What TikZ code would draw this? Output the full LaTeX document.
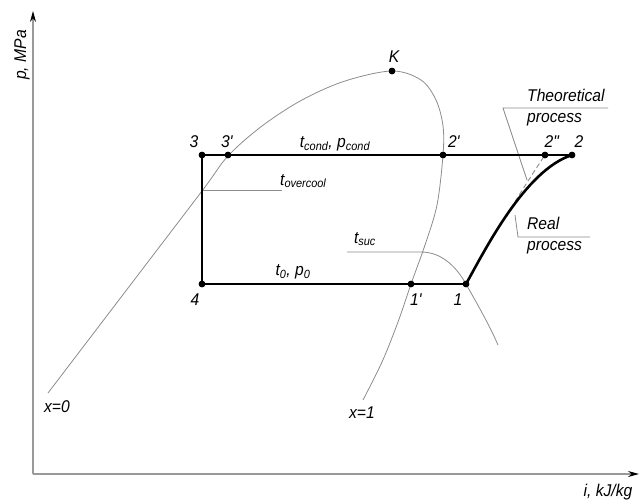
\documentclass[tikz,border=0pt]{standalone}
\usepackage{fontspec}
\setmainfont{Liberation Sans}[FakeStretch=0.92]
\usetikzlibrary{arrows.meta}
\newcommand{\prm}{\textquotesingle}
\newcommand{\dprm}{\textquotedbl}
\begin{document}
\begin{tikzpicture}[x=1pt,y=-1pt,
  lbl/.style={inner sep=0pt,font=\fontsize{17}{19}\selectfont\itshape},
  thinline/.style={draw=black!45,line width=0.8pt},
  axisline/.style={draw=black!40,line width=1.2pt},
  cycline/.style={draw=black,line width=2.4pt,line join=round},
  dotst/.style={circle,fill=black,inner sep=0pt,minimum size=6.5pt}]
\useasboundingbox (0,0) rectangle (640,501);
% points
\coordinate (origin) at (33,474);
\coordinate (ytop) at (33,11);
\coordinate (xend) at (639,474);
\node[dotst] (p3) at (202,155) {};
\node[dotst] (p3p) at (228,155) {};
\node[dotst] (p2p) at (443,155) {};
\node[dotst] (p2pp) at (545,155) {};
\node[dotst] (p2) at (572,155) {};
\node[dotst] (p4) at (202,284) {};
\node[dotst] (p1p) at (411,284) {};
\node[dotst] (p1) at (466,284) {};
\node[dotst] (K) at (392,71) {};
% axes
\draw[axisline,-{Stealth[black,length=11pt,width=6pt]}] (origin) -- (ytop);
\draw[axisline,-{Stealth[black,length=11pt,width=6pt]}] (origin) -- (xend);
% saturation dome
\coordinate (x0end) at (48,393);
\coordinate (x1end) at (363,400);
\draw[thinline] plot[smooth,tension=0.55] coordinates {(48,393) (125,292) (202,191) (228,156) (262,126) (302,100) (345,81) (392,71) (421,80) (436,100) (443,126) (443,155) (437,205) (425,245) (411,284) (398,322) (382,362) (363,400)};
% isotherms / leaders
\coordinate (ovA) at (202,190);
\coordinate (ovB) at (282,190);
\draw[thinline] (ovA) -- (ovB);
\coordinate (sucA) at (347,252);
\coordinate (sucB) at (421,252);
\coordinate (sucC) at (498,345);
\draw[thinline] (sucA) -- (sucB) .. controls (441,252) and (456,266) .. (p1.center) .. controls (475,300) and (490,326) .. (sucC);
\coordinate (thA) at (608,108);
\coordinate (thB) at (503,108);
\coordinate (thC) at (527,180);
\draw[thinline] (thA) -- (thB) -- (thC);
\coordinate (reA) at (515,215);
\coordinate (reB) at (518,237);
\coordinate (reC) at (590,237);
\draw[thinline] (reA) -- (reB) -- (reC);
% theoretical process
\draw[draw=black!45,line width=0.9pt,dash pattern=on 5pt off 3pt] (p1.center) .. controls (484,252) and (515,200) .. (p2pp.center);
% cycle
\draw[cycline] (p1.center) -- (p4.center) -- (p3.center) -- (p2.center);
\draw[cycline,line width=2.6pt] (p1.center) .. controls (485,250) and (525,170) .. (p2.center);
% redraw dots on top
\foreach \n in {p3,p3p,p2p,p2pp,p2,p4,p1p,p1,K} \fill (\n) circle (3.3pt);
% labels
\node[lbl,rotate=90] (ylab) at (22,55) {p, MPa};
\node[lbl] (xlab) at (608,492) {i, kJ/kg};
\node[lbl] (lx0) at (57,407) {x=0};
\node[lbl] (lx1) at (362,413) {x=1};
\node[lbl] (lK) at (394,57) {K};
\node[lbl] (l3) at (194,142) {3};
\node[lbl] (l3p) at (227,142) {3\prm};
\node[lbl] (l2p) at (454,142) {2\prm};
\node[lbl] (l2pp) at (552,142) {2\dprm};
\node[lbl] (l2) at (579,142) {2};
\node[lbl] (l4) at (195,300) {4};
\node[lbl] (l1p) at (416,300) {1\prm};
\node[lbl] (l1) at (458,300) {1};
\node[lbl] (lcond) at (335,144) {t\textsubscript{cond}, p\textsubscript{cond}};
\node[lbl] (lzero) at (293,272) {t\textsubscript{0}, p\textsubscript{0}};
\node[lbl,anchor=west] (lover) at (280,181) {t\textsubscript{overcool}};
\node[lbl] (lsuc) at (365,239) {t\textsubscript{suc}};
\node[lbl,anchor=west] (lth1) at (527,95) {Theoretical};
\node[lbl,anchor=west] (lth2) at (527,120) {process};
\node[lbl,anchor=west] (lre1) at (527,223) {Real};
\node[lbl,anchor=west] (lre2) at (527,248) {process};
\end{tikzpicture}
\end{document}
